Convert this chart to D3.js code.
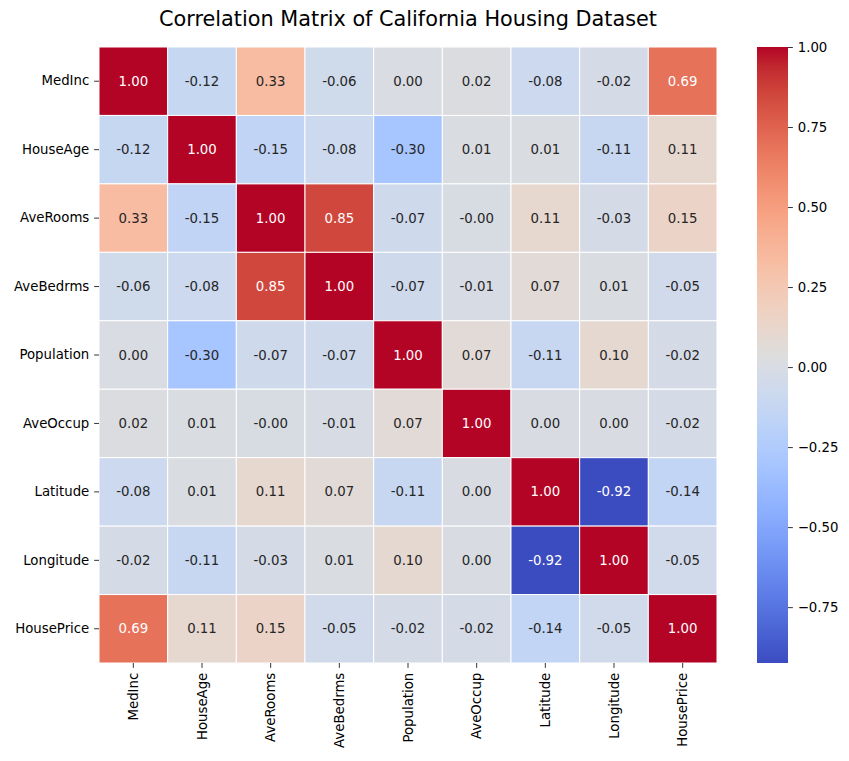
<!DOCTYPE html>
<html>
<head>
<meta charset="utf-8">
<script src="https://cdn.jsdelivr.net/npm/d3@7"></script>
<style>
  html, body { margin: 0; padding: 0; background: #fff; }
  svg { display: block; font-family: "DejaVu Sans", sans-serif; }
</style>
</head>
<body>
<svg id="chart" width="849" height="761"></svg>
<script>
// ---- data ----
const variables = ["MedInc", "HouseAge", "AveRooms", "AveBedrms", "Population", "AveOccup", "Latitude", "Longitude", "HousePrice"];
const rowMedInc     = [1.00, -0.12, 0.33, -0.06, 0.004, 0.02, -0.08, -0.02, 0.69];
const rowHouseAge   = [-0.12, 1.00, -0.15, -0.08, -0.30, 0.01, 0.01, -0.11, 0.11];
const rowAveRooms   = [0.33, -0.15, 1.00, 0.85, -0.07, -0.004, 0.11, -0.03, 0.15];
const rowAveBedrms  = [-0.06, -0.08, 0.85, 1.00, -0.07, -0.01, 0.07, 0.01, -0.05];
const rowPopulation = [0.004, -0.30, -0.07, -0.07, 1.00, 0.07, -0.11, 0.10, -0.02];
const rowAveOccup   = [0.02, 0.01, -0.004, -0.01, 0.07, 1.00, 0.002, 0.002, -0.02];
const rowLatitude   = [-0.08, 0.01, 0.11, 0.07, -0.11, 0.002, 1.00, -0.9245, -0.14];
const rowLongitude  = [-0.02, -0.11, -0.03, 0.01, 0.10, 0.002, -0.9245, 1.00, -0.05];
const rowHousePrice = [0.69, 0.11, 0.15, -0.05, -0.02, -0.02, -0.14, -0.05, 1.00];
const matrix = [rowMedInc, rowHouseAge, rowAveRooms, rowAveBedrms, rowPopulation, rowAveOccup, rowLatitude, rowLongitude, rowHousePrice];
const colorbarTicks = [1.00, 0.75, 0.50, 0.25, 0.00, -0.25, -0.50, -0.75];
const titleText = "Correlation Matrix of California Housing Dataset";

// coolwarm colormap (Moreland) control colors
const coolwarmStops = [
  [59,76,192],[68,90,204],[77,104,215],[87,117,225],[98,130,234],[108,142,241],[119,154,247],[130,165,251],
  [141,176,254],[152,185,255],[163,194,255],[174,201,253],[184,208,249],[194,213,244],[204,217,238],[213,219,230],
  [221,221,221],[229,216,209],[236,211,197],[241,204,185],[245,196,173],[247,187,160],[247,177,148],[247,166,135],
  [244,154,123],[241,141,111],[236,127,99],[229,112,88],[222,96,77],[213,80,66],[203,62,56],[192,40,47],[180,4,38]
];
const coolwarm = d3.piecewise(d3.interpolateRgb, coolwarmStops.map(c => `rgb(${c[0]},${c[1]},${c[2]})`));

// ---- layout ----
const svg = d3.select("#chart");
const plotLeft = 99, plotRight = 717, plotTop = 47, plotBottom = 663;
const cbLeft = 757, cbRight = 788;
const tickLen = 4.86, tickPad = 4.86;

const allVals = matrix.flat();
const vmin = d3.min(allVals), vmax = d3.max(allVals);
const colorNorm = d3.scaleLinear().domain([vmin, vmax]).range([0, 1]).clamp(true);
const color = v => coolwarm(colorNorm(v));

const x = d3.scaleBand().domain(variables).range([plotLeft, plotRight]);
const y = d3.scaleBand().domain(variables).range([plotTop, plotBottom]);

function relLum(c) {
  const rgb = d3.rgb(c);
  const f = v => { v /= 255; return v <= 0.03928 ? v / 12.92 : Math.pow((v + 0.055) / 1.055, 2.4); };
  return 0.2126 * f(rgb.r) + 0.7152 * f(rgb.g) + 0.0722 * f(rgb.b);
}

// title
svg.append("text")
  .attr("x", (plotLeft + plotRight) / 2).attr("y", 26)
  .attr("text-anchor", "middle")
  .attr("font-size", "20.8px")
  .attr("fill", "#000")
  .text(titleText);

// cells
const cells = [];
matrix.forEach((row, i) => row.forEach((v, j) => cells.push({ r: variables[i], c: variables[j], v })));

const g = svg.append("g");
g.selectAll("rect.cell").data(cells).join("rect")
  .attr("class", "cell")
  .attr("x", d => x(d.c)).attr("y", d => y(d.r))
  .attr("width", x.bandwidth()).attr("height", y.bandwidth())
  .attr("fill", d => color(d.v))
  .attr("stroke", "#fff").attr("stroke-width", 1);

g.selectAll("text.ann").data(cells).join("text")
  .attr("class", "ann")
  .attr("x", d => x(d.c) + x.bandwidth() / 2)
  .attr("y", d => y(d.r) + y.bandwidth() / 2)
  .attr("text-anchor", "middle").attr("dominant-baseline", "central")
  .attr("font-size", "13.3px")
  .attr("fill", d => relLum(color(d.v)) > 0.408 ? "#262626" : "#fff")
  .text(d => d.v.toFixed(2));

// y axis
const yAxis = d3.axisLeft(y).tickSize(tickLen).tickPadding(tickPad);
const yg = svg.append("g").attr("transform", `translate(${plotLeft},0)`).call(yAxis);
yg.select(".domain").remove();
yg.selectAll("text").attr("font-size", "13.3px").attr("font-family", "DejaVu Sans").attr("fill", "#000");
yg.selectAll("line").attr("stroke", "#000").attr("stroke-width", 0.8);

// x axis
const xAxis = d3.axisBottom(x).tickSize(tickLen).tickPadding(tickPad);
const xg = svg.append("g").attr("transform", `translate(0,${plotBottom})`).call(xAxis);
xg.select(".domain").remove();
xg.selectAll("line").attr("stroke", "#000").attr("stroke-width", 0.8);
xg.selectAll("text")
  .attr("font-size", "13.3px").attr("font-family", "DejaVu Sans").attr("fill", "#000")
  .attr("transform", "rotate(-90)")
  .attr("x", -(tickLen + tickPad)).attr("y", 0).attr("dy", "0.35em")
  .attr("text-anchor", "end");

// colorbar
const cbScale = d3.scaleLinear().domain([vmin, vmax]).range([plotBottom, plotTop]);
const defs = svg.append("defs");
const grad = defs.append("linearGradient").attr("id", "cbgrad")
  .attr("x1", 0).attr("y1", 1).attr("x2", 0).attr("y2", 0);
d3.range(0, 1.0001, 1 / 64).forEach(t => {
  grad.append("stop").attr("offset", t).attr("stop-color", coolwarm(t));
});
svg.append("rect")
  .attr("x", cbLeft).attr("y", plotTop)
  .attr("width", cbRight - cbLeft).attr("height", plotBottom - plotTop)
  .attr("fill", "url(#cbgrad)");

const cbAxis = d3.axisRight(cbScale).tickValues(colorbarTicks).tickSize(tickLen).tickPadding(tickPad)
  .tickFormat(v => (v < 0 ? "\u2212" : "") + Math.abs(v).toFixed(2));
const cbg = svg.append("g").attr("transform", `translate(${cbRight},0)`).call(cbAxis);
cbg.select(".domain").remove();
cbg.selectAll("text").attr("font-size", "13.3px").attr("font-family", "DejaVu Sans").attr("fill", "#000");
cbg.selectAll("line").attr("stroke", "#000").attr("stroke-width", 0.8);
</script>
</body>
</html>
